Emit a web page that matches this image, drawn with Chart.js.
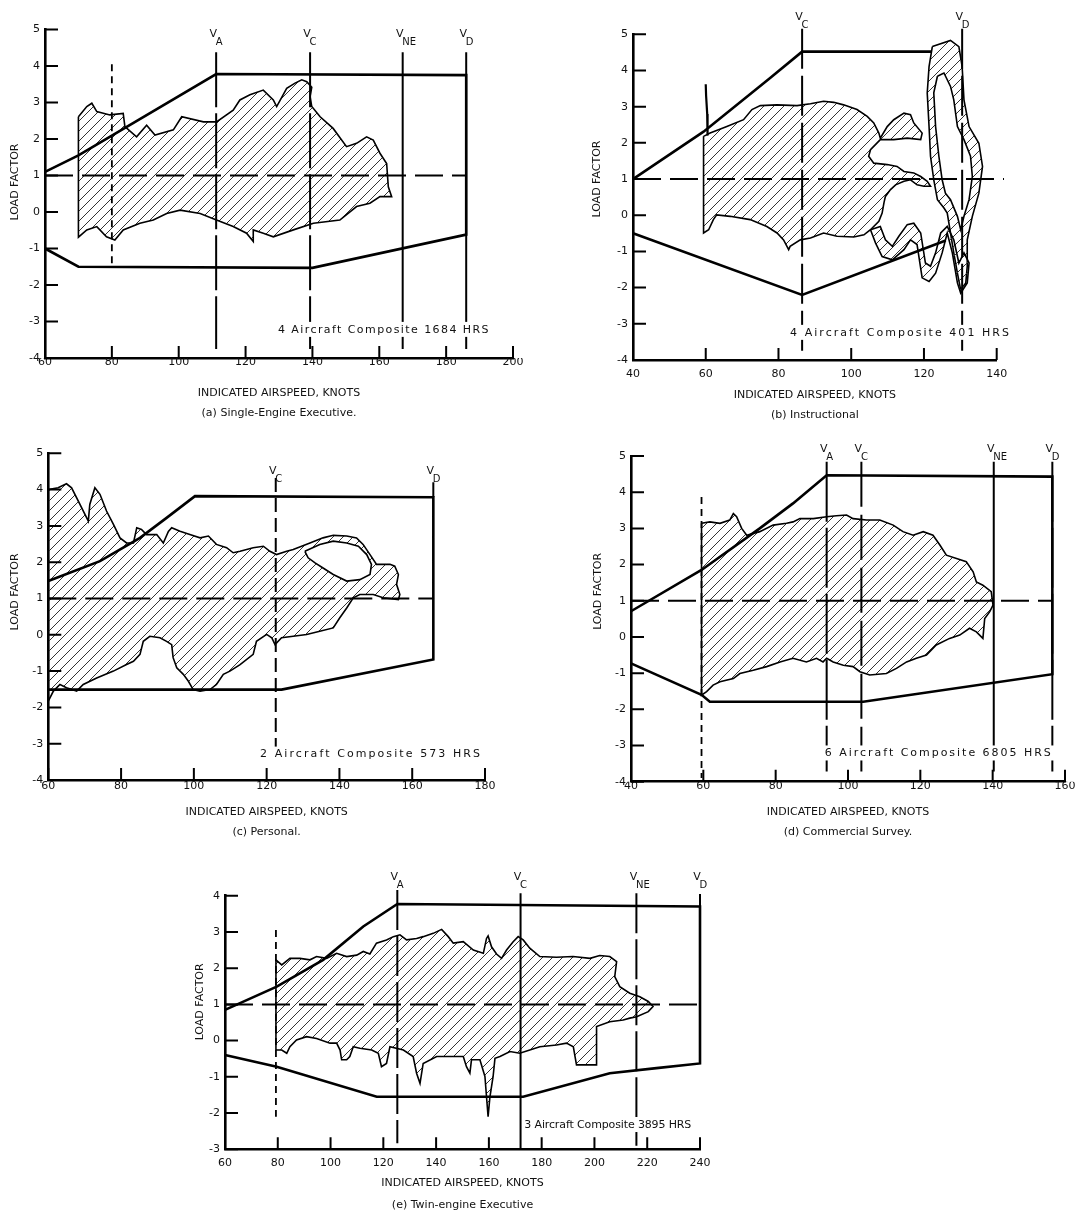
<!DOCTYPE html>
<html>
<head>
<meta charset="utf-8">
<script src="https://cdn.jsdelivr.net/npm/chart.js@4.4.1/dist/chart.umd.min.js"></script>
<style>
  html, body { margin: 0; padding: 0; background: #fff; }
  body { width: 1087px; height: 1217px; position: relative; overflow: hidden; }
  canvas { position: absolute; }
</style>
</head>
<body>
<canvas id="panelA"></canvas>
<canvas id="panelB"></canvas>
<canvas id="panelC"></canvas>
<canvas id="panelD"></canvas>
<canvas id="panelE"></canvas>
<script>
// ---- Data (knots, load factor) ----

// (a) Single-Engine Executive
const speedsA = [111.2, 139.3, 167, 186];
const vNamesA = ['A', 'C', 'NE', 'D'];
const stallA = 80;
const envA = [[60, 1.1], [70, 1.55], [111.2, 3.78], [186, 3.75], [186, -0.62], [140, -1.53], [70, -1.5], [60, -1.0]];
const blobA = [[70, 2.61], [72.5, 2.89], [74, 2.98], [75.5, 2.75], [79.4, 2.66], [83.4, 2.7], [83.9, 2.34], [87.4, 2.06], [90.4, 2.38], [92.9, 2.11], [98.4, 2.25], [100.9, 2.61], [107.4, 2.47], [111.3, 2.47], [116.3, 2.79], [118.3, 3.07], [121.3, 3.21], [125.3, 3.34], [128.3, 3.07], [129.3, 2.89], [132.3, 3.39], [134.8, 3.53], [136.8, 3.62], [138.3, 3.57], [139.8, 3.42], [139.3, 3.16], [139.8, 2.89], [142.3, 2.61], [146.2, 2.29], [150.2, 1.79], [153.2, 1.88], [156.2, 2.06], [158.2, 1.97], [160.2, 1.61], [162.2, 1.33], [162.7, 0.69], [163.7, 0.42], [160.2, 0.42], [157.2, 0.24], [153.2, 0.15], [148.2, -0.22], [140.3, -0.31], [134.3, -0.49], [128.3, -0.68], [125.3, -0.58], [122.3, -0.49], [122.3, -0.81], [120.3, -0.58], [116.3, -0.4], [111.3, -0.22], [106.4, -0.04], [100.4, 0.05], [96.4, -0.04], [92.4, -0.22], [88.4, -0.31], [83.4, -0.49], [80.9, -0.77], [78.4, -0.68], [75.5, -0.4], [72.5, -0.49], [70, -0.69]];

// (b) Instructional
const speedsB = [86.5, 130.5];
const vNamesB = ['C', 'D'];
const envBUpper = [[40, 1.0], [59.4, 2.31], [77.7, 3.79], [86.5, 4.52], [122, 4.52]];
const envBLower = [[40, -0.5], [86.5, -2.2], [126, -0.7]];
const blobB = [[59.4, 2.18], [61.2, 2.27], [65.8, 2.45], [70.4, 2.64], [72.7, 2.92], [75, 3.03], [79.6, 3.05], [85.1, 3.03], [88.8, 3.08], [92.4, 3.15], [95.2, 3.12], [97.9, 3.05], [101.6, 2.92], [104.4, 2.73], [106.2, 2.55], [107.6, 2.27], [108, 2.13], [109.9, 2.45], [111.7, 2.64], [114.5, 2.82], [116.3, 2.78], [117.2, 2.55], [119.5, 2.27], [119.1, 2.09], [115.4, 2.13], [111.7, 2.09], [108, 2.09], [105.3, 1.81], [104.8, 1.63], [106.2, 1.44], [109.9, 1.4], [112.6, 1.35], [114.5, 1.21], [117.2, 1.17], [119.1, 1.07], [120.9, 0.94], [121.8, 0.8], [120, 0.8], [118.1, 0.84], [116.3, 0.98], [114.5, 0.94], [112.2, 0.84], [110.8, 0.71], [109.4, 0.52], [109, 0.34], [108.5, 0.06], [107.6, -0.17], [105.3, -0.4], [103.5, -0.54], [100.7, -0.6], [96.1, -0.58], [92.4, -0.49], [88.8, -0.63], [86, -0.68], [83.2, -0.86], [82.8, -0.95], [81.4, -0.68], [79.6, -0.49], [76.8, -0.31], [72.2, -0.12], [66.7, -0.03], [63, 0.01], [62.1, -0.12], [60.8, -0.4], [59.4, -0.49]];
const ribbonB = [[105.3, -0.4], [106.7, -0.77], [108.5, -1.14], [111.3, -1.23], [114.5, -0.95], [116.3, -0.68], [118.1, -0.81], [119.5, -1.73], [121.4, -1.83], [123.2, -1.6], [125, -1.04], [126.4, -0.49], [127.8, -1.04], [129.2, -1.87], [130.1, -2.15], [131.9, -1.87], [132.4, -1.32], [131, -1.04], [129.6, -1.32], [128.2, -0.68], [126.4, -0.31], [124.6, -0.49], [123.2, -1.04], [121.8, -1.41], [120.4, -1.32], [119.1, -0.49], [117.2, -0.22], [115.4, -0.26], [113.1, -0.58], [111.3, -0.86], [109.4, -0.68], [108, -0.31]];
const loopB = [[122.3, 4.66], [127.3, 4.83], [129.6, 4.66], [130.5, 4.11], [131, 3.19], [132.4, 2.45], [135.1, 1.99], [136.1, 1.35], [135.1, 0.61], [133.3, -0.03], [131.9, -0.68], [131.9, -1.41], [131.5, -1.87], [130.1, -2.06], [129.2, -1.6], [128.2, -1.04], [127.3, -0.49], [126.4, 0.06], [125.5, 0.2], [123.7, 0.43], [122.7, 0.98], [121.8, 1.63], [121.4, 2.45], [120.9, 3.38], [121.4, 4.11]];
const loopHoleB = [[123.7, 3.84], [125.5, 3.93], [127.3, 3.56], [128.2, 3.19], [129.2, 2.45], [131, 2.09], [132.8, 1.63], [133.3, 1.07], [132.4, 0.43], [131, -0.03], [130.1, -0.4], [129.2, -0.03], [127.3, 0.43], [125.9, 0.61], [125, 0.98], [124.1, 1.63], [123.2, 2.45], [122.7, 3.38]];
const spikeB = [[60, 3.62], [60.1, 3.3], [60.4, 2.8], [60.5, 2.2]];

// (c) Personal
const speedsC = [122.5, 165.8];
const vNamesC = ['C', 'D'];
const envC = [[60, 1.48], [74.2, 2.03], [85.2, 2.67], [92.5, 3.22], [100.3, 3.82], [165.8, 3.79], [165.8, -0.68], [124.1, -1.51], [60, -1.51]];
const blobC = [[60, 4.0], [62.7, 4.05], [65, 4.16], [66.4, 4.05], [68.7, 3.59], [71, 3.13], [71.4, 3.59], [72.8, 4.05], [74.2, 3.87], [76, 3.41], [77.9, 3.04], [79.7, 2.67], [81.5, 2.53], [83.4, 2.53], [84.3, 2.95], [85.6, 2.9], [87, 2.76], [89.8, 2.76], [91.6, 2.53], [93, 2.85], [93.9, 2.95], [96.2, 2.85], [98.9, 2.76], [101.7, 2.67], [104, 2.72], [106.2, 2.49], [109, 2.4], [110.8, 2.26], [112.7, 2.3], [116.3, 2.4], [119.1, 2.44], [120.9, 2.3], [122.7, 2.21], [125.5, 2.3], [127.3, 2.35], [129.6, 2.44], [131.9, 2.53], [135.5, 2.67], [138.3, 2.74], [142, 2.72], [144.7, 2.67], [146.5, 2.49], [148.4, 2.21], [150.2, 1.94], [153.9, 1.94], [155.2, 1.89], [156.2, 1.66], [155.7, 1.39], [156.6, 1.11], [156.2, 0.97], [152, 1.02], [149.3, 1.11], [145.6, 1.11], [143.8, 1.02], [142, 0.74], [140.1, 0.47], [138.3, 0.19], [134.6, 0.1], [131, 0.01], [127.3, -0.04], [124.1, -0.08], [122.3, -0.27], [121.4, -0.08], [120, 0.01], [117.2, -0.18], [116.3, -0.54], [112.7, -0.82], [109.9, -1.0], [108.1, -1.09], [106.2, -1.37], [104.4, -1.51], [101.7, -1.55], [99.8, -1.51], [98.5, -1.28], [97.1, -1.09], [95.3, -0.91], [94.3, -0.63], [93.9, -0.27], [92.5, -0.18], [90.7, -0.08], [87.9, -0.04], [86.1, -0.18], [85.2, -0.54], [83.4, -0.73], [81.5, -0.82], [77.9, -1.0], [73.3, -1.19], [69.6, -1.37], [67.8, -1.55], [65, -1.46], [63.2, -1.37], [61.4, -1.55], [60, -1.83]];
const holeC = [[130.5, 2.3], [134.6, 2.49], [138.3, 2.58], [142, 2.53], [145.2, 2.44], [147.5, 2.21], [148.8, 1.94], [148.4, 1.66], [145.6, 1.52], [142, 1.48], [138.3, 1.66], [135.5, 1.84], [133.3, 1.98], [131.4, 2.12]];

// (d) Commercial Survey
const speedsD = [94.1, 103.7, 140.3, 156.5];
const vNamesD = ['A', 'C', 'NE', 'D'];
const stallD = 59.5;
const envD = [[40, 0.71], [59.5, 1.85], [75.6, 3.0], [84.8, 3.69], [94.1, 4.47], [156.5, 4.43], [156.5, -1.03], [104.2, -1.79], [61.8, -1.79], [59.5, -1.6], [40, -0.73]];
const blobD = [[59.5, 3.14], [61.8, 3.18], [64.6, 3.14], [67.3, 3.23], [68.3, 3.41], [69.2, 3.32], [70.6, 3.0], [72, 2.81], [75.6, 2.91], [79.3, 3.09], [83, 3.14], [84.8, 3.18], [86.7, 3.27], [90.4, 3.27], [94.1, 3.32], [96.8, 3.35], [99.6, 3.37], [101.4, 3.27], [105.1, 3.23], [108.8, 3.23], [112.5, 3.09], [115.2, 2.91], [118, 2.81], [120.8, 2.91], [123.5, 2.81], [125.4, 2.54], [127.2, 2.26], [130, 2.17], [132.7, 2.08], [134.6, 1.8], [135.5, 1.52], [137.3, 1.43], [139.6, 1.25], [140.1, 0.88], [139.2, 0.7], [137.8, 0.51], [137.3, -0.04], [135.5, 0.14], [133.6, 0.24], [130.9, 0.05], [128.1, -0.04], [124.4, -0.22], [121.7, -0.5], [118.9, -0.59], [116.2, -0.69], [113.4, -0.87], [110.6, -1.01], [106, -1.05], [103.3, -0.96], [101.4, -0.82], [98.7, -0.78], [95.9, -0.69], [94.1, -0.59], [93.1, -0.69], [91.3, -0.59], [88.5, -0.69], [84.8, -0.59], [81.2, -0.69], [77.5, -0.82], [73.8, -0.92], [70.1, -1.01], [68.3, -1.15], [64.6, -1.24], [62.7, -1.33], [60.9, -1.51], [59.5, -1.61]];

// (e) Twin-engine Executive
const speedsE = [125.3, 172, 215.9, 240];
const vNamesE = ['A', 'C', 'NE', 'D'];
const stallE = 79.3;
const envE = [[60, 0.85], [79.6, 1.49], [97.2, 2.23], [112.4, 3.15], [125.3, 3.77], [240, 3.7], [240, -0.63], [223.5, -0.76], [205.8, -0.9], [173, -1.55], [117.5, -1.55], [79.6, -0.72], [60, -0.4]];
const blobE = [[79.3, 2.23], [81.5, 2.09], [84.6, 2.27], [88.4, 2.27], [92.2, 2.23], [94.7, 2.32], [98.5, 2.27], [102.3, 2.41], [106.1, 2.32], [109.9, 2.36], [112.4, 2.46], [114.9, 2.39], [117.4, 2.69], [121.2, 2.78], [123.8, 2.87], [126.3, 2.92], [128.8, 2.78], [132.6, 2.82], [135.1, 2.87], [138.9, 2.96], [142.1, 3.07], [144.6, 2.87], [146.5, 2.69], [150.3, 2.73], [154.1, 2.5], [157.9, 2.41], [159.1, 2.82], [159.7, 2.89], [161, 2.59], [162.9, 2.39], [164.8, 2.27], [166.7, 2.5], [169.2, 2.73], [171.1, 2.87], [173, 2.78], [175.5, 2.55], [179.3, 2.32], [185.6, 2.3], [191.9, 2.32], [198.3, 2.27], [202, 2.35], [205.8, 2.32], [208.4, 2.18], [207.7, 1.77], [209.6, 1.49], [213.4, 1.31], [217.2, 1.21], [220.4, 1.08], [222.2, 0.94], [220.4, 0.8], [216, 0.66], [213.4, 0.62], [210.9, 0.57], [205.8, 0.52], [200.8, 0.39], [200.8, -0.67], [198.3, -0.67], [193.2, -0.67], [192, -0.17], [189.4, -0.07], [185.6, -0.12], [179.3, -0.17], [175.5, -0.26], [171.7, -0.35], [168, -0.3], [164.2, -0.44], [162.3, -0.49], [161.6, -0.99], [160.4, -1.55], [159.7, -2.1], [159.1, -1.55], [158.5, -0.99], [156.6, -0.53], [153.4, -0.53], [152.8, -0.9], [151.5, -0.72], [150.3, -0.44], [145.2, -0.44], [140.2, -0.44], [135.1, -0.63], [133.9, -1.18], [132.6, -0.9], [131.3, -0.44], [127.6, -0.26], [122.5, -0.17], [121.2, -0.63], [119.3, -0.72], [118.1, -0.35], [115.6, -0.26], [111.1, -0.21], [108.6, -0.17], [107.3, -0.44], [106.1, -0.53], [104.2, -0.53], [103.6, -0.26], [102.3, -0.07], [99.8, -0.07], [94.7, 0.06], [90.9, 0.11], [87.1, 0.02], [84.6, -0.17], [83.4, -0.35], [81.5, -0.26], [79.3, -0.26]];

const X_TITLE = 'INDICATED AIRSPEED, KNOTS';
const Y_TITLE = 'LOAD FACTOR';

// ---- Helpers ----
Chart.defaults.font.family = '"DejaVu Sans", sans-serif';
Chart.defaults.color = '#111';

function hatchPattern() {
    const s = 10;
    const c = document.createElement('canvas');
    c.width = c.height = s;
    const g = c.getContext('2d');
    g.strokeStyle = '#333';
    g.lineWidth = 1;
    g.beginPath();
    g.moveTo(0, s); g.lineTo(s, 0);
    g.moveTo(-s / 2, s / 2); g.lineTo(s / 2, -s / 2);
    g.moveTo(s / 2, s * 1.5); g.lineTo(s * 1.5, s / 2);
    g.stroke();
    return g.createPattern(c, 'repeat');
}
const HATCH = hatchPattern();

const pts = a => a.map(([x, y]) => ({ x, y }));
const closed = a => pts(a.concat([a[0]]));
const line = extra => Object.assign({ pointRadius: 0, tension: 0, clip: false, fill: false, borderColor: '#000' }, extra);

// inward ticks, V labels, y title and the composite note
const decor = {
    id: 'decor',
    afterDraw(chart, args, o) {
        const { ctx, chartArea: a, scales: { x, y } } = chart;
        ctx.save();
        ctx.strokeStyle = '#000';
        ctx.lineWidth = 2;
        ctx.beginPath();
        x.ticks.forEach(t => {
            const px = x.getPixelForValue(t.value);
            ctx.moveTo(px, a.bottom); ctx.lineTo(px, a.bottom - 12);
        });
        y.ticks.forEach(t => {
            const py = y.getPixelForValue(t.value);
            ctx.moveTo(a.left, py); ctx.lineTo(a.left + 13, py);
        });
        ctx.stroke();

        ctx.fillStyle = '#111';
        ctx.textBaseline = 'alphabetic';
        o.speeds.forEach((v, i) => {
            const px = x.getPixelForValue(v);
            const py = y.getPixelForValue(o.labelN);
            ctx.font = '11px "DejaVu Sans"';
            ctx.textAlign = 'center';
            ctx.fillText('V', px - 3, py);
            ctx.font = '10px "DejaVu Sans"';
            ctx.textAlign = 'left';
            ctx.fillText(o.names[i], px - 0.5, py + 8);
        });

        // rotated axis title, a little above the middle as in the figure
        ctx.save();
        ctx.translate(o.yTitleX, y.getPixelForValue(o.yTitleN));
        ctx.rotate(-Math.PI / 2);
        ctx.font = '11px "DejaVu Sans"';
        ctx.textAlign = 'center';
        ctx.textBaseline = 'middle';
        ctx.fillText(Y_TITLE, 0, 0);
        ctx.restore();

        // note with white backing so the lines break round it
        ctx.font = '11px "DejaVu Sans"';
        ctx.letterSpacing = '0px';
        const w0 = ctx.measureText(o.note).width;
        ctx.letterSpacing = ((o.noteW - w0) / o.note.length).toFixed(2) + 'px';
        const nx = x.getPixelForValue(o.noteAt[0]);
        const ny = y.getPixelForValue(o.noteAt[1]);
        ctx.fillStyle = '#fff';
        ctx.fillRect(nx - 2, ny - 8, o.noteW + 4, 15);
        ctx.fillStyle = '#111';
        ctx.textAlign = 'left';
        ctx.textBaseline = 'middle';
        ctx.fillText(o.note, nx, ny);
        ctx.restore();
    }
};

function buildPanel(id, L, P) {
    const cv = document.getElementById(id);
    cv.width = L.w;
    cv.height = L.h;
    cv.style.left = L.left + 'px';
    cv.style.top = L.top + 'px';

    const ds = [];
    P.blobs.forEach(b => ds.push(line({ data: closed(b), fill: 'shape', backgroundColor: HATCH, borderWidth: 1.6, order: 10 })));
    (P.holes || []).forEach(h => ds.push(line({ data: closed(h), fill: 'shape', backgroundColor: '#fff', borderWidth: 1.6, order: 9 })));
    (P.strokes || []).forEach(s => ds.push(line({ data: pts(s), borderWidth: 2.2, order: 8 })));
    ds.push(line({ data: pts([[P.x[0], 1], [L.oneTo, 1]]), borderWidth: 2, borderDash: [28, 9], order: 4 }));
    P.speeds.forEach((v, i) => {
        const s = L.vs[i];
        ds.push(line({ data: pts([[v, s[0]], [v, s[1]]]), borderWidth: 2, borderDash: s[2], order: 3 }));
    });
    if (P.stall) {
        ds.push(line({ data: pts([[P.stall, L.stallY[0]], [P.stall, L.stallY[1]]]), borderWidth: 1.8, borderDash: [7, 5], order: 3 }));
    }
    P.env.forEach(e => ds.push(line({ data: pts(e), borderWidth: 2.6, order: 2 })));

    new Chart(cv, {
        type: 'line',
        data: { datasets: ds },
        options: {
            responsive: false,
            animation: false,
            events: [],
            layout: { padding: { top: L.pt, right: L.pr, left: 0, bottom: 0 } },
            plugins: {
                legend: { display: false },
                tooltip: { enabled: false },
                decor: {
                    speeds: P.speeds, names: P.names, labelN: L.labelN, note: P.note, noteAt: L.noteAt, noteW: L.noteW,
                    yTitleX: L.ytx, yTitleN: L.ytn
                }
            },
            scales: {
                x: {
                    type: 'linear',
                    min: P.x[0], max: P.x[1],
                    afterFit(s) { s.height = L.xh; s.paddingLeft = 0; s.paddingRight = 0; },
                    grid: { display: false, drawTicks: false },
                    border: { display: true, color: '#000', width: 2.6 },
                    ticks: { stepSize: 20, padding: L.xpad, maxRotation: 0, autoSkip: false, font: { size: 11 } },
                    title: {
                        display: true,
                        text: [X_TITLE, P.caption],
                        font: { size: 11, lineHeight: L.lh + 'px' },
                        padding: { top: 0, bottom: L.tpb }
                    }
                },
                y: {
                    type: 'linear',
                    min: P.y[0], max: P.y[1],
                    afterFit(s) { s.width = L.yw; s.paddingTop = 0; s.paddingBottom = 0; },
                    grid: { display: false, drawTicks: false },
                    border: { display: true, color: '#000', width: 2.6 },
                    ticks: { stepSize: 1, padding: 5, font: { size: 11 } },
                    title: { display: false }
                }
            }
        },
        plugins: [decor]
    });
}

// ---- Panels ----
buildPanel('panelA',
    { left: 0, top: 0, w: 570, h: 425, pt: 29.5, pr: 57, yw: 45, xh: 67, xpad: -2, tpb: 2, lh: 20, ytx: 15, ytn: 0.82,
      labelN: 4.79, noteAt: [129.7, -3.23], noteW: 212, oneTo: 186, stallY: [4.05, -1.5],
      vs: [[4.38, -3.75, [55, 6]], [4.38, -3.75, [55, 6]], [4.38, -3.75, []], [4.38, -3.75, []]] },
    { x: [60, 200], y: [-4, 5], speeds: speedsA, names: vNamesA, stall: stallA, env: [envA], blobs: [blobA],
      note: '4 Aircraft Composite 1684 HRS', caption: '(a) Single-Engine Executive.' });

buildPanel('panelB',
    { left: 570, top: 0, w: 517, h: 425, pt: 34.3, pr: 90.3, yw: 63, xh: 65, xpad: 8, tpb: 0, lh: 20, ytx: 27, ytn: 1.0,
      labelN: 5.4, noteAt: [83.2, -3.25], noteW: 221, oneTo: 142,
      vs: [[5.15, -3.9, [40, 7]], [5.15, -3.9, [40, 7]]] },
    { x: [40, 140], y: [-4, 5], speeds: speedsB, names: vNamesB, env: [envBUpper, envBLower],
      blobs: [blobB, ribbonB, loopB], holes: [loopHoleB], strokes: [spikeB],
      note: '4 Aircraft Composite 401 HRS', caption: '(b) Instructional' });

buildPanel('panelC',
    { left: 0, top: 430, w: 560, h: 412, pt: 23.3, pr: 75, yw: 48.3, xh: 62, xpad: 0, tpb: 0, lh: 20, ytx: 15, ytn: 1.18,
      labelN: 4.42, noteAt: [118.2, -3.3], noteW: 222, oneTo: 166,
      vs: [[4.32, -3.1, [14, 6]], [4.2, 3.79, []]] },
    { x: [60, 180], y: [-4, 5], speeds: speedsC, names: vNamesC, env: [envC], blobs: [blobC], holes: [holeC],
      note: '2 Aircraft Composite 573 HRS', caption: '(c) Personal.' });

buildPanel('panelD',
    { left: 560, top: 430, w: 527, h: 412, pt: 26, pr: 22, yw: 71, xh: 60.3, xpad: -2, tpb: 0, lh: 20, ytx: 38, ytn: 1.26,
      labelN: 5.12, noteAt: [93.6, -3.22], noteW: 228, oneTo: 156.5, stallY: [3.87, -3.9],
      vs: [[4.84, -3.72, [60, 6]], [4.84, -3.72, [45, 8]], [4.84, -3.72, []], [4.84, -3.72, [60, 6]]] },
    { x: [40, 160], y: [-4, 5], speeds: speedsD, names: vNamesD, stall: stallD, env: [envD], blobs: [blobD],
      note: '6 Aircraft Composite 6805 HRS', caption: '(d) Commercial Survey.' });

buildPanel('panelE',
    { left: 180, top: 830, w: 720, h: 387, pt: 65.7, pr: 200, yw: 45, xh: 67.7, xpad: 7, tpb: 1, lh: 22, ytx: 20, ytn: 1.07,
      labelN: 4.43, noteAt: [173.4, -2.33], noteW: 167, oneTo: 240, stallY: [3.05, -2.1],
      vs: [[4.16, -2.83, [40, 6]], [4.07, -2.97, []], [4.07, -2.9, [40, 6]], [4.05, 3.7, []]] },
    { x: [60, 240], y: [-3, 4], speeds: speedsE, names: vNamesE, stall: stallE, env: [envE], blobs: [blobE],
      note: '3 Aircraft Composite 3895 HRS', caption: '(e) Twin-engine Executive' });
</script>
</body>
</html>
